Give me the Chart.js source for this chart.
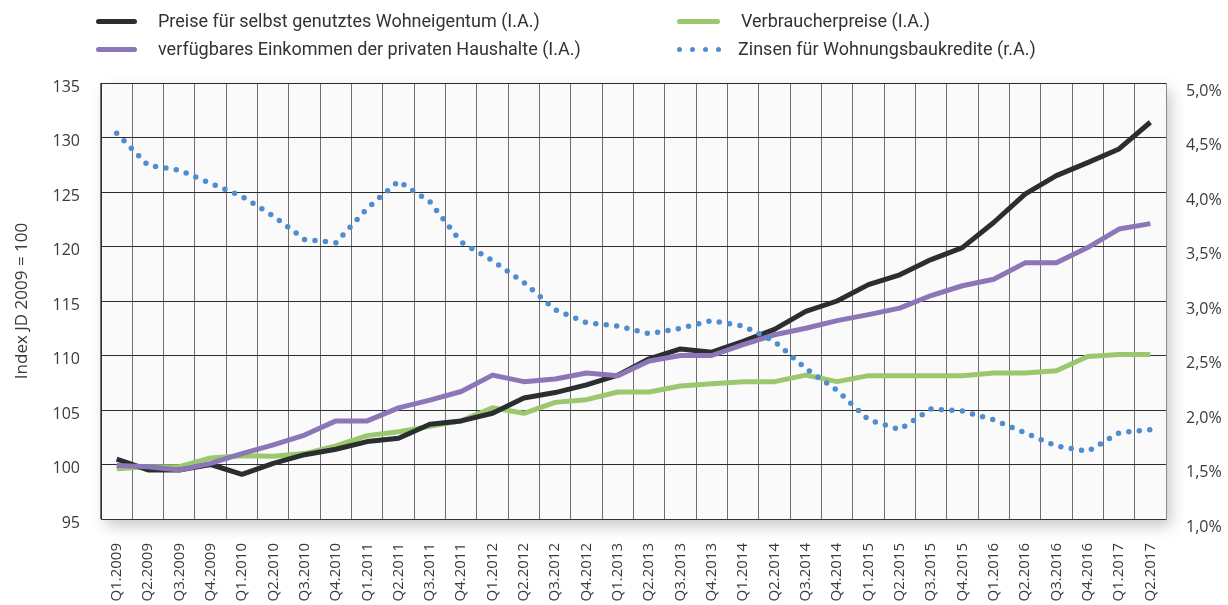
<!DOCTYPE html>
<html lang="de">
<head>
<meta charset="utf-8">
<title>Wohneigentum, Einkommen, Verbraucherpreise und Zinsen</title>
<script src="https://cdn.jsdelivr.net/npm/chart.js@4.4.1/dist/chart.umd.min.js"></script>
<style>
    html, body { margin: 0; padding: 0; background: #fff; }
    #wrap { position: relative; width: 1228px; height: 605px; overflow: hidden; }
    #chart { position: absolute; left: 0; top: 0; }
    .swatch { position: absolute; height: 5px; border-radius: 3px; }
    .dot { position: absolute; width: 5px; height: 5px; border-radius: 50%; background: #4e8dcf; }
    .legend-text {
        position: absolute;
        font-family: Roboto, "Noto Sans", sans-serif;
        font-size: 18px;
        line-height: 22px;
        color: #333;
        white-space: nowrap;
    }
</style>
</head>
<body>
<div id="wrap">
    <canvas id="chart" width="1228" height="605"></canvas>

    <!-- legend -->
    <div class="swatch" style="left:96px; top:19px; width:41px; background:#2b2e2e"></div>
    <div class="legend-text" style="left:158px; top:10px">Preise für selbst genutztes Wohneigentum (I.A.)</div>
    <div class="swatch" style="left:96px; top:47px; width:41px; background:#8b76b7"></div>
    <div class="legend-text" style="left:158px; top:38px">verfügbares Einkommen der privaten Haushalte (I.A.)</div>

    <div class="swatch" style="left:677px; top:19px; width:43px; background:#9bc76e"></div>
    <div class="legend-text" style="left:741px; top:10px">Verbraucherpreise (I.A.)</div>
    <div class="dot" style="left:677px; top:47px"></div>
    <div class="dot" style="left:690px; top:47px"></div>
    <div class="dot" style="left:703px; top:47px"></div>
    <div class="dot" style="left:716px; top:47px"></div>
    <div class="legend-text" style="left:738px; top:38px">Zinsen für Wohnungsbaukredite (r.A.)</div>
</div>

<script>
// ============================================
// Data
// ============================================
const quarters = [
    'Q1.2009', 'Q2.2009', 'Q3.2009', 'Q4.2009',
    'Q1.2010', 'Q2.2010', 'Q3.2010', 'Q4.2010',
    'Q1.2011', 'Q2.2011', 'Q3.2011', 'Q4.2011',
    'Q1.2012', 'Q2.2012', 'Q3.2012', 'Q4.2012',
    'Q1.2013', 'Q2.2013', 'Q3.2013', 'Q4.2013',
    'Q1.2014', 'Q2.2014', 'Q3.2014', 'Q4.2014',
    'Q1.2015', 'Q2.2015', 'Q3.2015', 'Q4.2015',
    'Q1.2016', 'Q2.2016', 'Q3.2016', 'Q4.2016',
    'Q1.2017', 'Q2.2017'
];

// Index JD 2009 = 100 (left axis)
const preiseWohneigentum = [
    100.5, 99.5, 99.5, 100.0, 99.1, 100.1, 100.9, 101.4,
    102.1, 102.4, 103.7, 104.0, 104.7, 106.1, 106.6, 107.3,
    108.2, 109.7, 110.6, 110.3, 111.3, 112.4, 114.05, 115.0,
    116.5, 117.4, 118.8, 119.9, 122.2, 124.8, 126.5, 127.7,
    128.95, 131.4
];
const einkommen = [
    99.9, 99.8, 99.5, 100.1, 101.0, 101.8, 102.7, 104.0,
    104.0, 105.2, 105.9, 106.7, 108.2, 107.6, 107.85, 108.4,
    108.15, 109.5, 110.0, 110.0, 111.0, 111.9, 112.5, 113.2,
    113.75, 114.35, 115.5, 116.4, 117.0, 118.5, 118.5, 119.9,
    121.6, 122.1
];
const verbraucherpreise = [
    99.6, 99.8, 99.8, 100.6, 100.8, 100.75, 101.0, 101.7,
    102.65, 103.0, 103.5, 104.0, 105.2, 104.7, 105.7, 105.95,
    106.65, 106.65, 107.2, 107.4, 107.6, 107.6, 108.2, 107.6,
    108.15, 108.15, 108.15, 108.15, 108.4, 108.4, 108.6, 109.9,
    110.1, 110.1
];

// Zinsen in % (right axis)
const zinsen = [
    4.54, 4.245, 4.20, 4.08, 3.96, 3.78, 3.565, 3.535,
    3.85, 4.10, 3.91, 3.54, 3.37, 3.17, 2.92, 2.80,
    2.77, 2.70, 2.75, 2.82, 2.77, 2.63, 2.38, 2.18,
    1.91, 1.82, 2.01, 1.99, 1.91, 1.79, 1.67, 1.62,
    1.79, 1.82
];

// ============================================
// Plot background with drop shadow
// ============================================
const plotBackground = {
    id: 'plotBackground',
    beforeDraw(chart) {
        const { ctx, chartArea: a } = chart;
        ctx.save();
        ctx.shadowColor = 'rgba(0, 0, 0, 0.22)';
        ctx.shadowBlur = 14;
        ctx.shadowOffsetX = 5;
        ctx.shadowOffsetY = 7;
        ctx.fillStyle = '#fafafa';
        ctx.fillRect(a.left, a.top, a.right - a.left, a.bottom - a.top);
        ctx.restore();
    }
};

const tickColor = '#3a3a3a';
const tickFont = { family: '"Open Sans", "Noto Sans", sans-serif', size: 16 };

const ctx = document.getElementById('chart').getContext('2d');
new Chart(ctx, {
    type: 'line',
    data: {
        labels: quarters,
        datasets: [
            {
                label: 'Zinsen für Wohnungsbaukredite (r.A.)',
                data: zinsen,
                yAxisID: 'y1',
                borderColor: '#4e8dcf',
                borderWidth: 5.5,
                borderDash: [0, 10.5],
                borderCapStyle: 'round',
                pointRadius: 0,
                tension: 0,
                order: 0
            },
            {
                label: 'verfügbares Einkommen der privaten Haushalte (I.A.)',
                data: einkommen,
                yAxisID: 'y',
                borderColor: '#8b76b7',
                borderWidth: 5,
                borderJoinStyle: 'round',
                pointRadius: 0,
                tension: 0,
                order: 1
            },
            {
                label: 'Preise für selbst genutztes Wohneigentum (I.A.)',
                data: preiseWohneigentum,
                yAxisID: 'y',
                borderColor: '#2b2e2e',
                borderWidth: 5,
                borderJoinStyle: 'round',
                pointRadius: 0,
                tension: 0,
                order: 2
            },
            {
                label: 'Verbraucherpreise (I.A.)',
                data: verbraucherpreise,
                yAxisID: 'y',
                borderColor: '#9bc76e',
                borderWidth: 5,
                borderJoinStyle: 'round',
                pointRadius: 0,
                tension: 0,
                order: 3
            }
        ]
    },
    options: {
        responsive: false,
        animation: false,
        layout: { padding: { top: 83, left: 0, right: 0, bottom: 0 } },
        plugins: {
            legend: { display: false },
            tooltip: { enabled: false }
        },
        scales: {
            x: {
                offset: true,
                grid: { offset: true, color: '#6e6e6e', drawTicks: false },
                border: { color: '#333' },
                ticks: {
                    autoSkip: false,
                    minRotation: 90,
                    maxRotation: 90,
                    padding: 24,
                    color: tickColor,
                    font: { family: '"Open Sans", "Noto Sans", sans-serif', size: 15 }
                },
                afterFit(scale) { scale.height = 86; }
            },
            y: {
                position: 'left',
                min: 95,
                max: 135,
                grid: { color: '#2d2d2d', drawTicks: false },
                border: { color: '#333' },
                ticks: {
                    stepSize: 5,
                    padding: 21,
                    labelOffset: 4,
                    color: tickColor,
                    font: tickFont
                },
                title: {
                    display: true,
                    text: 'Index JD 2009 = 100',
                    color: tickColor,
                    font: { family: '"Open Sans", "Noto Sans", sans-serif', size: 17 },
                    align: 'center',
                    padding: { top: 12, bottom: 0 }
                },
                afterFit(scale) { scale.width = 101; }
            },
            y1: {
                position: 'right',
                min: 1,
                max: 5,
                grid: { drawOnChartArea: false, drawTicks: false },
                border: { color: '#8a8a8a' },
                ticks: {
                    stepSize: 0.5,
                    padding: 20,
                    labelOffset: 8,
                    color: tickColor,
                    font: tickFont,
                    callback: v => v.toFixed(1).replace('.', ',') + '%'
                },
                afterFit(scale) { scale.width = 62; }
            }
        }
    },
    plugins: [plotBackground]
});
</script>
</body>
</html>
